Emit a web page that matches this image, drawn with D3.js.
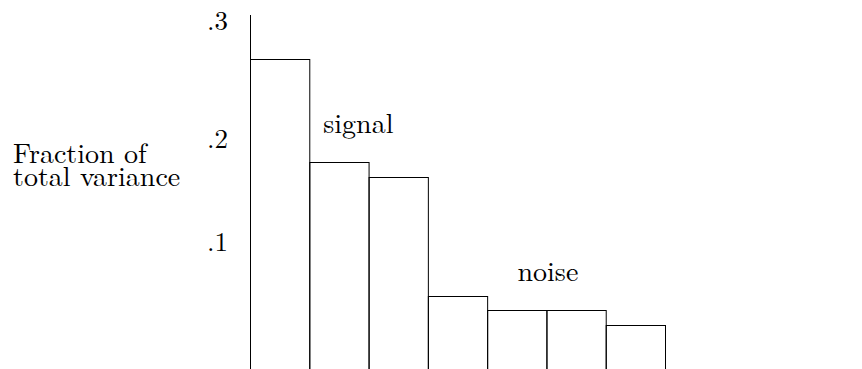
<!DOCTYPE html>
<html><head><meta charset="utf-8">
<script src="https://cdn.jsdelivr.net/npm/d3@7"></script>
<style>
body{margin:0;background:#fff}
svg{display:block}
</style>
</head><body>
<svg id="c" width="862" height="369"></svg>
<script>
// ---- data ----
const components = ["1", "2", "3", "4", "5", "6", "7"];
const fractions = [0.268, 0.178, 0.164, 0.0485, 0.034, 0.034, 0.020];
const tickValues = [0.1, 0.2, 0.3];
const tickLabels = [".1", ".2", ".3"];
const yLabelLines = ["Fraction of", "total variance"];
const signalLabel = "signal";
const noiseLabel = "noise";

// ---- layout ----
const W = 862, H = 369;
const FONT = '"Latin Modern Roman", "Liberation Serif", serif';
const svg = d3.select("#c");
const plotLeft = 250, plotRight = 665, plotTop = 15, plotBottom = H + 3;

const x = d3.scaleBand().domain(components).range([plotLeft, plotRight]).padding(0);
// the original's value axis is hand-spaced; a piecewise linear scale reproduces it
const y = d3.scaleLinear()
  .domain([0, 0.1, 0.2, 0.3])
  .range([345.5, 242.5, 139.5, 21.5]);

// bars
svg.append("g").selectAll("rect").data(fractions).join("rect")
  .attr("x", (d, i) => x(components[i]) + 0.5)
  .attr("y", d => Math.round(y(d)) + 0.5)
  .attr("width", x.bandwidth())
  .attr("height", d => plotBottom - Math.round(y(d)))
  .attr("fill", "none")
  .attr("stroke", "#000")
  .attr("stroke-width", 1);

// axis line
svg.append("line")
  .attr("x1", plotLeft + 0.5).attr("x2", plotLeft + 0.5)
  .attr("y1", plotTop).attr("y2", plotBottom)
  .attr("stroke", "#000").attr("stroke-width", 1);

// tick labels
svg.append("g").selectAll("text").data(tickValues).join("text")
  .attr("x", 228)
  .attr("y", d => y(d) + 8.5)
  .attr("text-anchor", "end")
  .style("font-family", FONT)
  .style("font-size", "27px")
  .text((d, i) => tickLabels[i]);

// y label
svg.append("g").selectAll("text").data(yLabelLines).join("text")
  .attr("x", 13)
  .attr("y", (d, i) => 163 + i * 23)
  .style("font-family", FONT)
  .style("font-size", "28px")
  .text(d => d);

// annotations
svg.append("text")
  .attr("x", x(components[1]) + 14)
  .attr("y", y(fractions[1]) - 29)
  .style("font-family", FONT)
  .style("font-size", "28px")
  .text(signalLabel);

svg.append("text")
  .attr("x", x(components[5]) + 1.5)
  .attr("y", y(fractions[3]) - 14.5)
  .attr("text-anchor", "middle")
  .style("font-family", FONT)
  .style("font-size", "28px")
  .text(noiseLabel);
</script>
</body></html>
